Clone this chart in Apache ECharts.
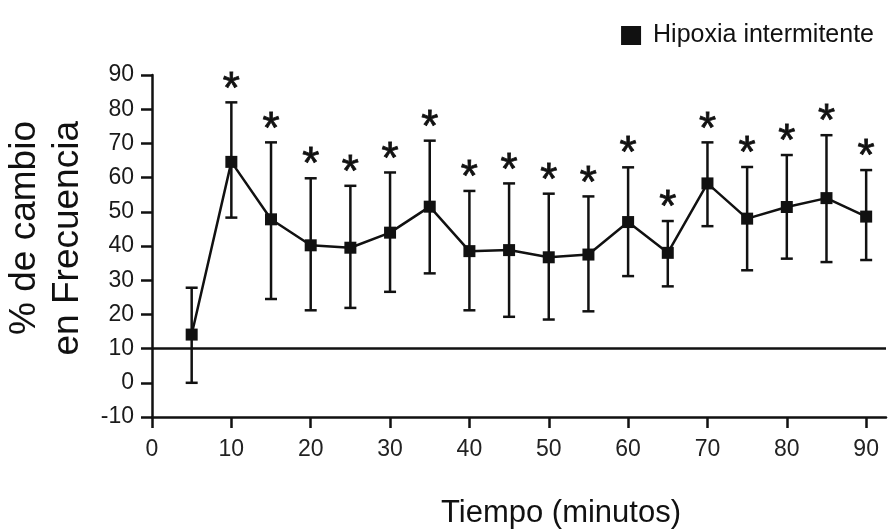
<!DOCTYPE html>
<html><head><meta charset="utf-8">
<script src="https://cdn.jsdelivr.net/npm/echarts@6/dist/echarts.min.js"></script>
<style>html,body{margin:0;padding:0;background:#fff}#c{width:888px;height:529px}</style>
</head><body><div id="c"></div>
<script>
var times = [5,10,15,20,25,30,35,40,45,50,55,60,65,70,75,80,85,90];
var meanVals = [14.1,64.6,47.8,40.2,39.5,43.9,51.5,38.5,38.8,36.7,37.5,47.0,38.0,58.3,48.0,51.4,54.0,48.6];
var upperVals = [27.8,82.0,70.3,59.8,57.6,61.5,70.8,56.1,58.3,55.3,54.5,63.0,47.3,70.3,63.1,66.6,72.4,62.2];
var lowerVals = [0,48.3,24.5,21.2,21.9,26.6,32.0,21.2,19.3,18.5,20.9,31.2,28.2,45.8,32.9,36.3,35.3,35.9];
var significant = [0,1,1,1,1,1,1,1,1,1,1,1,1,1,1,1,1,1];
var xTicks = [0,10,20,30,40,50,60,70,80,90];
var baseline = 10;
var yTitleLines = ['% de cambio', 'en Frecuencia'];
var xTitle = 'Tiempo (minutos)';

var chart = echarts.init(document.getElementById('c'));
var lineData = times.map(function(t,i){return [t, meanVals[i]];});
var errData = times.map(function(t,i){return [t, lowerVals[i], upperVals[i], significant[i]];});
var ink = '#111';
var sans = 'Liberation Sans, Arial, sans-serif';

chart.setOption({
  animation: false,
  backgroundColor: '#fff',
  graphic: [
    {type: 'text', x: 561, y: 513, style: {text: xTitle, align: 'center', verticalAlign: 'middle',
      font: 'normal 31px Liberation Sans, Arial, sans-serif', fill: ink}},
    {type: 'text', x: 25, y: 121, rotation: Math.PI/2, style: {text: yTitleLines[0], align: 'right', verticalAlign: 'middle',
      font: 'normal 37px Liberation Sans, Arial, sans-serif', fill: ink}},
    {type: 'text', x: 68, y: 121, rotation: Math.PI/2, style: {text: yTitleLines[1], align: 'right', verticalAlign: 'middle',
      font: 'normal 37px Liberation Sans, Arial, sans-serif', fill: ink}}
  ],
  legend: {
    right: 9, top: 18, icon: 'rect', itemWidth: 20, itemHeight: 19, itemGap: 6,
    textStyle: {fontFamily: sans, fontSize: 25, color: ink, padding: [0,0,0,7]},
    data: ['Hipoxia intermitente']
  },
  grid: {left: 152, right: 2, top: 75, bottom: 112, outerBoundsMode: 'none', containLabel: false},
  xAxis: {
    type: 'value', min: 0, max: 92.5,
    axisLine: {onZero: false, lineStyle: {color: ink, width: 2.5}},
    axisTick: {show: true, length: 11, lineStyle: {color: ink, width: 2.5}, customValues: xTicks},
    axisLabel: {customValues: xTicks, fontFamily: sans, fontSize: 23, color: '#222', margin: 21},
    splitLine: {show: false}
  },
  yAxis: {
    type: 'value', min: -10, max: 90, interval: 10,
    axisLine: {show: true, onZero: false, lineStyle: {color: ink, width: 2.5}},
    axisTick: {show: true, length: 11, lineStyle: {color: ink, width: 2.5}},
    axisLabel: {fontFamily: sans, fontSize: 23, color: '#1a1a1a', margin: 18},
    splitLine: {show: false}
  },
  series: [
    {
      type: 'custom', name: 'err', z: 2,
      data: errData,
      renderItem: function(params, api){
        var x = api.value(0);
        var lo = api.coord([x, api.value(1)]);
        var hi = api.coord([x, api.value(2)]);
        var cap = 6;
        var st = {stroke: ink, lineWidth: 2.5};
        var children = [
          {type: 'line', shape: {x1: lo[0], y1: lo[1], x2: hi[0], y2: hi[1]}, style: st},
          {type: 'line', shape: {x1: hi[0]-cap, y1: hi[1], x2: hi[0]+cap, y2: hi[1]}, style: st},
          {type: 'line', shape: {x1: lo[0]-cap, y1: lo[1], x2: lo[0]+cap, y2: lo[1]}, style: st}
        ];
        if (api.value(3)) {
          children.push({type: 'text', style: {text: '*', x: hi[0], y: hi[1] + 10, align: 'center', verticalAlign: 'bottom',
            fontFamily: sans, fontSize: 44, fill: ink, stroke: ink, lineWidth: 0.8}});
        }
        return {type: 'group', children: children};
      }
    },
    {
      type: 'line', name: 'Hipoxia intermitente', z: 3,
      data: lineData,
      symbol: 'rect', symbolSize: 12,
      itemStyle: {color: ink},
      lineStyle: {color: ink, width: 2.5},
      markLine: {
        silent: true, symbol: 'none', label: {show: false},
        lineStyle: {color: ink, width: 2.5, type: 'solid'},
        data: [{yAxis: baseline}]
      }
    }
  ]
});
</script></body></html>
